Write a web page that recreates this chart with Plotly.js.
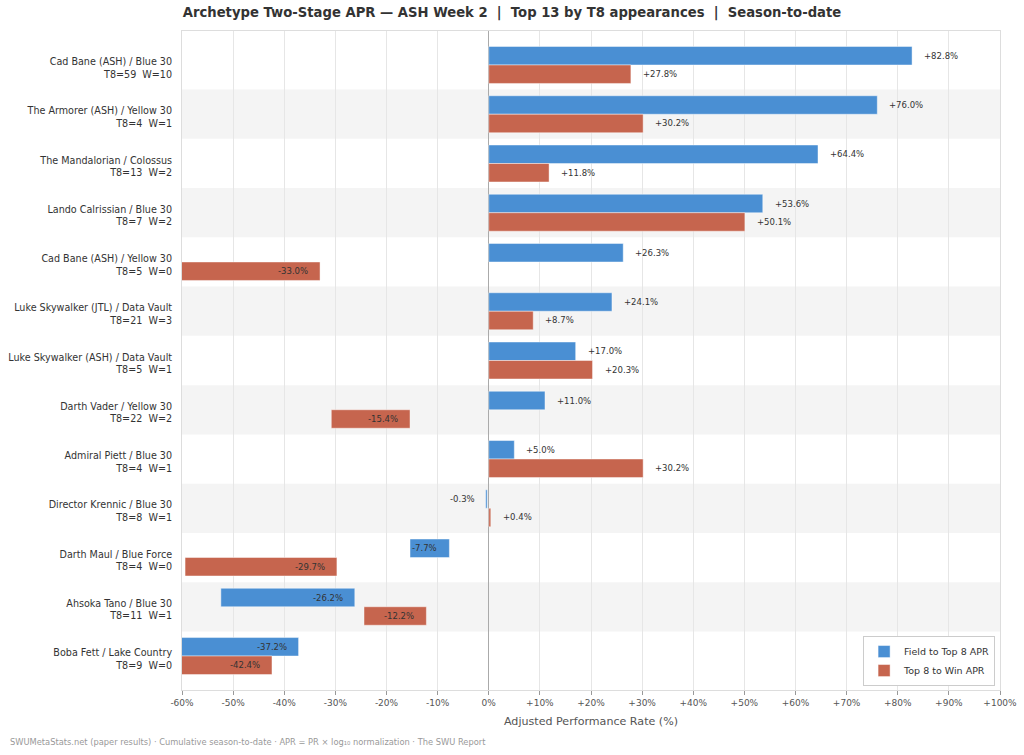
<!DOCTYPE html>
<html>
<head>
<meta charset="utf-8">
<script src="https://cdn.plot.ly/plotly-3.0.1.min.js"></script>
<style>
  html, body { margin: 0; padding: 0; background: #fff; }
  #chart { width: 1024px; height: 755px; }
</style>
</head>
<body>
<div id="chart"></div>
<script>
// archetypes, top to bottom
const archetypes = [
  'Cad Bane (ASH) / Blue 30',
  'The Armorer (ASH) / Yellow 30',
  'The Mandalorian / Colossus',
  'Lando Calrissian / Blue 30',
  'Cad Bane (ASH) / Yellow 30',
  'Luke Skywalker (JTL) / Data Vault',
  'Luke Skywalker (ASH) / Data Vault',
  'Darth Vader / Yellow 30',
  'Admiral Piett / Blue 30',
  'Director Krennic / Blue 30',
  'Darth Maul / Blue Force',
  'Ahsoka Tano / Blue 30',
  'Boba Fett / Lake Country'
];
const t8Counts = [59, 4, 13, 7, 5, 21, 5, 22, 4, 8, 4, 11, 9];
const winCounts = [10, 1, 2, 2, 0, 3, 1, 2, 1, 1, 0, 1, 0];

// APR values (%)
const fieldToTop8 = [82.8, 76.0, 64.4, 53.6, 26.3, 24.1, 17.0, 11.0, 5.0, -0.3, -7.7, -26.2, -37.2];
const top8ToWin = [27.8, 30.2, 11.8, 50.1, -33.0, 8.7, 20.3, -15.4, 30.2, 0.4, -29.7, -12.2, -42.4];

const xTicks = [-60, -50, -40, -30, -20, -10, 0, 10, 20, 30, 40, 50, 60, 70, 80, 90, 100];

const BLUE = '#4a8fd3';
const RED = '#c6654e';
const FONT = 'DejaVu Sans, sans-serif';

const rows = archetypes.map((_, i) => i);
const tickText = archetypes.map((a, i) => `${a}<br>T8=${t8Counts[i]}\u00a0 W=${winCounts[i]}`);
const fmt = v => (v > 0 ? '+' : '') + v.toFixed(1) + '%';

// negative bars are drawn from the value outward (as in the source report)
const baseOf = arr => arr.map(v => (v < 0 ? v : 0));

const mkTrace = (name, vals, color) => ({
  type: 'bar',
  orientation: 'h',
  name: name,
  y: rows,
  x: vals,
  base: baseOf(vals),
  marker: { color: color, line: { color: 'rgba(255,255,255,0.55)', width: 0.8 } },
  hoverinfo: 'skip'
});

const data = [
  mkTrace('Field to Top 8 APR', fieldToTop8, BLUE),
  mkTrace('Top 8 to Win APR', top8ToWin, RED)
];

// value labels
const annotations = [];
[[fieldToTop8, -0.1875], [top8ToWin, 0.1875]].forEach(([vals, dy]) => {
  vals.forEach((v, i) => {
    annotations.push({
      x: v, y: i + dy, xref: 'x', yref: 'y',
      text: fmt(v), showarrow: false,
      xanchor: v >= 0 ? 'left' : 'right',
      xshift: v >= 0 ? 10 : -10,
      font: { family: FONT, size: 8.5, color: '#333' }
    });
  });
});

annotations.push({
  xref: 'paper', yref: 'paper', x: -0.2127, y: -0.079,
  xanchor: 'left', yanchor: 'middle', showarrow: false,
  text: 'SWUMetaStats.net (paper results) · Cumulative season-to-date · APR = PR × log₁₀ normalization · The SWU Report',
  font: { family: FONT, size: 8.3, color: '#999' }
});

// alternating row bands
const shapes = rows.filter(i => i % 2 === 1).map(i => ({
  type: 'rect', xref: 'paper', yref: 'y',
  x0: 0, x1: 1, y0: i - 0.5, y1: i + 0.5,
  fillcolor: '#f4f4f4', line: { width: 0 }, layer: 'below'
}));

const layout = {
  width: 1024, height: 755,
  margin: { l: 182, r: 24, t: 31, b: 65 },
  paper_bgcolor: '#fff', plot_bgcolor: '#fff',
  font: { family: FONT, color: '#333' },
  title: {
    text: '<b>Archetype Two-Stage APR — ASH Week 2\u00a0 |\u00a0 Top 13 by T8 appearances\u00a0 |\u00a0 Season-to-date</b>',
    x: 0.5, xanchor: 'center', y: 0.983, yanchor: 'middle',
    font: { family: FONT, size: 13.2, color: '#333' }
  },
  barmode: 'group',
  bargap: 0.25,
  bargroupgap: 0,
  showlegend: true,
  legend: {
    x: 0.994, y: 0.006, xanchor: 'right', yanchor: 'bottom',
    bgcolor: '#fff', bordercolor: '#cccccc', borderwidth: 1,
    font: { family: FONT, size: 9.5, color: '#333' },
    traceorder: 'normal', itemwidth: 30
  },
  xaxis: {
    range: [-60, 100],
    tickvals: xTicks,
    ticktext: xTicks.map(v => (v > 0 ? '+' : '') + v + '%'),
    tickfont: { family: FONT, size: 9, color: '#555' },
    ticks: 'outside', ticklen: 4, tickcolor: '#999',
    showgrid: true, gridcolor: '#e6e6e6', gridwidth: 1,
    zeroline: true, zerolinecolor: '#aaaaaa', zerolinewidth: 1.2,
    showline: true, linecolor: '#dddddd', mirror: true,
    title: { text: 'Adjusted Performance Rate (%)', standoff: 10, font: { family: FONT, size: 11.1, color: '#555' } }
  },
  yaxis: {
    range: [12.69, -0.69],
    tickvals: rows,
    ticktext: tickText,
    tickfont: { family: FONT, size: 9.6, color: '#333' },
    ticks: '', showgrid: false, zeroline: false,
    ticklabelstandoff: 7, ticklabelshift: -3,
    showline: true, linecolor: '#dddddd', mirror: true,
    automargin: false
  },
  shapes: shapes,
  annotations: annotations
};

Plotly.newPlot('chart', data, layout, { displayModeBar: false, staticPlot: true });
</script>
</body>
</html>
